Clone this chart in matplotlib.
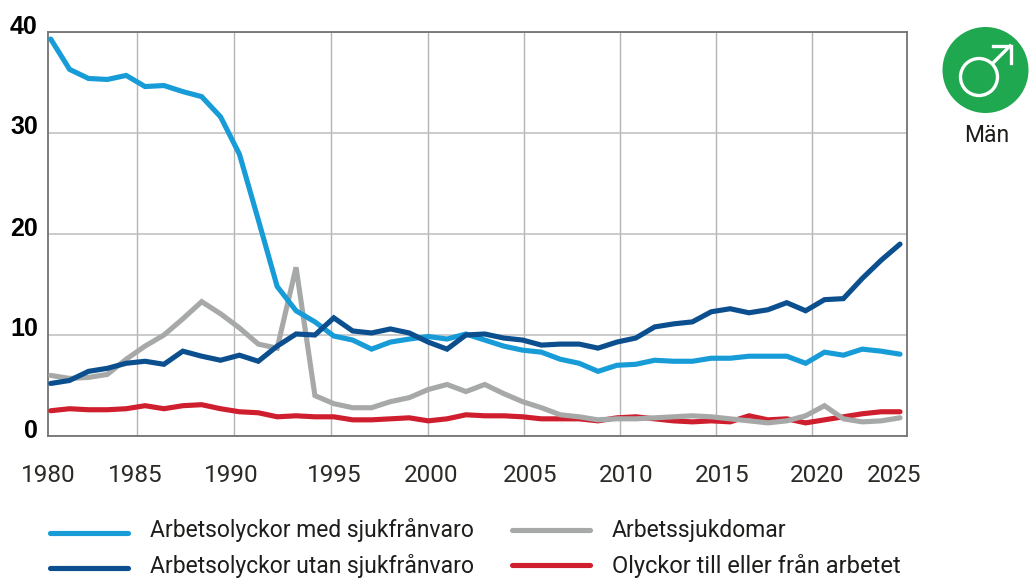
import matplotlib
matplotlib.use("Agg")
import matplotlib.pyplot as plt
from matplotlib.lines import Line2D
from matplotlib.patches import Circle
from matplotlib.transforms import ScaledTranslation

years = list(range(1980, 2026))
med_sjukfranvaro = [39.3, 36.3, 35.4, 35.3, 35.7, 34.6, 34.7, 34.1, 33.6, 31.6, 27.9, 21.4, 14.8, 12.4, 11.3, 9.9, 9.5, 8.6, 9.3, 9.6, 9.85, 9.6, 10.1, 9.5, 8.9, 8.5, 8.3, 7.6, 7.2, 6.4, 7.0, 7.1, 7.5, 7.4, 7.4, 7.7, 7.7, 7.9, 7.9, 7.9, 7.2, 8.3, 8.0, 8.6, 8.4, 8.1]
utan_sjukfranvaro = [5.2, 5.5, 6.4, 6.7, 7.2, 7.4, 7.1, 8.4, 7.9, 7.5, 8.0, 7.4, 8.9, 10.1, 10.0, 11.7, 10.4, 10.2, 10.6, 10.2, 9.3, 8.6, 10.0, 10.1, 9.7, 9.5, 9.0, 9.1, 9.1, 8.7, 9.3, 9.7, 10.8, 11.1, 11.3, 12.3, 12.6, 12.2, 12.5, 13.2, 12.4, 13.5, 13.6, 15.6, 17.4, 19.0]
arbetssjukdomar = [6.0, 5.7, 5.8, 6.1, 7.6, 8.9, 10.0, 11.6, 13.3, 12.1, 10.7, 9.1, 8.7, 16.7, 4.0, 3.2, 2.8, 2.8, 3.4, 3.8, 4.6, 5.1, 4.4, 5.1, 4.2, 3.4, 2.8, 2.1, 1.9, 1.6, 1.7, 1.7, 1.8, 1.9, 2.0, 1.9, 1.7, 1.5, 1.3, 1.5, 2.0, 3.0, 1.7, 1.4, 1.5, 1.8]
olyckor_till_fran = [2.5, 2.7, 2.6, 2.6, 2.7, 3.0, 2.7, 3.0, 3.1, 2.7, 2.4, 2.3, 1.9, 2.0, 1.9, 1.9, 1.6, 1.6, 1.7, 1.8, 1.5, 1.7, 2.1, 2.0, 2.0, 1.9, 1.7, 1.7, 1.7, 1.5, 1.8, 1.9, 1.7, 1.5, 1.4, 1.5, 1.4, 2.0, 1.6, 1.7, 1.3, 1.6, 1.9, 2.2, 2.4, 2.4]

x_labels = ["1980", "1985", "1990", "1995", "2000", "2005", "2010", "2015", "2020", "2025"]
x_label_pos = [1979.85, 1984.5, 1989.55, 1995.05, 2000.15, 2005.4, 2010.5, 2015.6, 2020.6, 2024.7]
x_grid_pos = [1984.57, 1989.71, 1994.85, 2000.0, 2005.08, 2010.17, 2015.26, 2020.35]
y_ticks = [0, 10, 20, 30, 40]

LIGHT, DARK, GRAY, RED = "#179cd8", "#0b4f8f", "#a7a9a9", "#cf1f2e"
W, H = 1029, 578
LW = 3.7
FONT = "Roboto"

fig = plt.figure(figsize=(W / 100, H / 100), dpi=100, facecolor="white")
L, R, T, B = 47.5, 906.5, 32, 436
ax = fig.add_axes([L / W, 1 - B / H, (R - L) / W, (B - T) / H])

step = (900 - 50.7) / 45
ax.set_xlim(1980 - (50.7 - L) / step, 1980 + (R - 50.7) / step)
ax.set_ylim(0, 40)

for series, color in [(olyckor_till_fran, RED), (arbetssjukdomar, GRAY),
                      (med_sjukfranvaro, LIGHT), (utan_sjukfranvaro, DARK)]:
    ax.plot(years, series, color=color, lw=LW, solid_joinstyle="miter", solid_capstyle="round", zorder=3)

ax.set_xticks(x_grid_pos, minor=True)
ax.set_xticks(x_label_pos)
ax.set_xticklabels(x_labels, fontsize=17.5, color="#2b2a25", family=FONT)
ax.set_yticks(y_ticks)
ax.set_yticklabels([str(v) for v in y_ticks], fontsize=18, fontweight="bold", color="black", family="Liberation Sans")
ax.tick_params(axis="x", which="major", length=0, pad=20)
ax.tick_params(axis="x", which="minor", length=0)
ax.tick_params(axis="y", length=0, pad=7)
ax.grid(False)
ax.xaxis.grid(True, which="minor", color="#b4b4b4", lw=1.0, zorder=1)
ax.yaxis.grid(True, which="major", color="#bdbdbd", lw=1.1, zorder=1)
offset = ScaledTranslation(0, 8 / 100, fig.dpi_scale_trans)
for lab in ax.get_yticklabels():
    lab.set_transform(lab.get_transform() + offset)
for s in ax.spines.values():
    s.set_color("#737373")
    s.set_linewidth(1.3)

ov = fig.add_axes([0, 0, 1, 1], facecolor="none", zorder=5)
ov.set_xlim(0, W)
ov.set_ylim(H, 0)
ov.axis("off")

legend_items = [
    ("Arbetsolyckor med sjukfrånvaro", LIGHT, 50, 128, 150, 532.5, 530.5, 16.5),
    ("Arbetsolyckor utan sjukfrånvaro", DARK, 50, 128, 150, 567.5, 566.5, 16.5),
    ("Arbetssjukdomar", GRAY, 512, 590, 612, 529.5, 530.5, 16.5),
    ("Olyckor till eller från arbetet", RED, 512, 590, 612, 565, 566.5, 17.0),
]
for text, color, x0, x1, tx, y, ty, fs in legend_items:
    ov.add_line(Line2D([x0, x1], [y, y], color=color, lw=LW, solid_capstyle="round"))
    ov.text(tx, ty, text, fontsize=fs, color="#1d1d1b", family=FONT, va="center", ha="left", clip_on=False)

ov.add_patch(Circle((985.5, 70), 43, facecolor="#1fa84f", edgecolor="none"))
ov.add_patch(Circle((979, 77), 18.5, facecolor="none", edgecolor="white", lw=2.4))
ov.add_line(Line2D([993, 1010], [63, 46], color="white", lw=2.4))
ov.add_line(Line2D([993, 1010.5, 1010.5], [46, 46, 63], color="white", lw=2.4, solid_joinstyle="miter"))
ov.text(986.5, 135, "Män", fontsize=16.5, color="#1d1d1b", family=FONT, va="center", ha="center")

fig.savefig("out.png", dpi=100)
